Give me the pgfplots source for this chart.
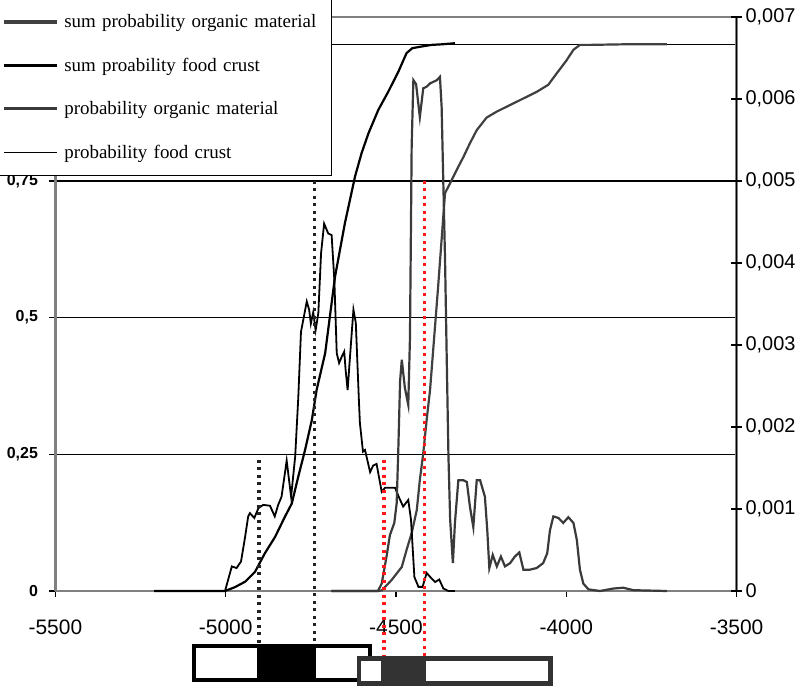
\documentclass[border=0pt]{standalone}
\usepackage{fontspec}
\setmainfont{Liberation Sans}
\newfontfamily\legfont{Liberation Serif}
\usepackage{pgfplots}
\pgfplotsset{compat=1.18}
\definecolor{axgray}{HTML}{808080}
\definecolor{orgline}{HTML}{404040}
\definecolor{orgden}{HTML}{3A3A3A}
\definecolor{boxgray}{HTML}{333333}
\definecolor{dotred}{HTML}{FF1A1A}
\definecolor{dotblack}{HTML}{222222}

\pgfplotstableread{
x y
-5210 0
-5002 0
-4973 0.007
-4943 0.017
-4914 0.035
-4885 0.069
-4855 0.099
-4826 0.136
-4806 0.160
-4787 0.209
-4767 0.258
-4747 0.313
-4733 0.368
-4708 0.435
-4679 0.575
-4650 0.673
-4620 0.759
-4601 0.801
-4581 0.837
-4552 0.880
-4523 0.913
-4493 0.950
-4469 0.984
-4452 0.993
-4425 0.996
-4395 0.999
-4366 1.000
-4327 1.002
}\sumfood

\pgfplotstableread{
x y
-4690 0
-4553 0
-4542 0.001
-4513 0.020
-4483 0.044
-4469 0.075
-4454 0.106
-4439 0.148
-4430 0.203
-4420 0.252
-4410 0.313
-4400 0.368
-4377 0.551
-4356 0.728
-4341 0.746
-4322 0.770
-4302 0.794
-4283 0.819
-4263 0.843
-4234 0.866
-4204 0.877
-4165 0.889
-4126 0.901
-4087 0.913
-4053 0.926
-4028 0.947
-3999 0.971
-3979 0.990
-3960 0.999
-3930 0.999
-3833 1.000
-3705 1.000
}\sumorg

% densities in units of 0.001
\pgfplotstableread{
x y
-5210 0
-5002 0
-4982 0.30
-4968 0.28
-4955 0.36
-4943 0.66
-4934 0.91
-4929 0.95
-4916 0.89
-4904 1.01
-4890 1.05
-4870 1.04
-4856 0.91
-4846 1.05
-4836 1.15
-4821 1.59
-4808 1.15
-4796 1.64
-4787 2.35
-4779 3.16
-4762 3.53
-4755 3.43
-4750 3.26
-4743 3.40
-4736 3.18
-4728 3.39
-4720 4.12
-4711 4.48
-4699 4.36
-4689 4.34
-4681 3.79
-4674 2.90
-4667 2.78
-4659 2.86
-4652 2.92
-4648 2.70
-4642 2.45
-4635 2.86
-4625 3.43
-4618 3.27
-4609 2.33
-4606 2.05
-4597 1.70
-4591 1.72
-4576 1.45
-4567 1.53
-4557 1.55
-4550 1.39
-4542 1.21
-4532 1.26
-4503 1.26
-4490 1.13
-4479 1.03
-4464 1.11
-4456 0.87
-4446 0.17
-4434 0.05
-4422 0.05
-4410 0.22
-4395 0.15
-4385 0.11
-4373 0.14
-4361 0.03
-4346 0
-4327 0
}\denfood

\pgfplotstableread{
x y
-4690 0
-4553 0
-4542 0.09
-4527 0.44
-4518 0.68
-4505 0.83
-4498 1.07
-4493 1.76
-4488 2.56
-4483 2.82
-4474 2.48
-4464 2.27
-4459 3.09
-4454 5.43
-4449 6.23
-4441 6.18
-4430 5.78
-4420 6.13
-4410 6.15
-4400 6.19
-4380 6.23
-4371 6.27
-4366 5.90
-4361 4.96
-4356 4.04
-4351 2.82
-4346 1.64
-4341 0.87
-4333 0.34
-4327 0.83
-4317 1.35
-4302 1.35
-4292 1.33
-4283 1.03
-4273 0.78
-4263 1.35
-4253 1.35
-4239 1.15
-4232 0.74
-4226 0.28
-4216 0.44
-4204 0.30
-4192 0.42
-4180 0.30
-4165 0.34
-4151 0.42
-4138 0.47
-4126 0.26
-4107 0.26
-4087 0.28
-4068 0.34
-4056 0.46
-4048 0.74
-4038 0.91
-4023 0.89
-4009 0.83
-3994 0.90
-3979 0.83
-3969 0.62
-3960 0.26
-3950 0.09
-3935 0.02
-3901 0
-3862 0.03
-3833 0.04
-3803 0.01
-3705 0
}\denorg

\begin{document}
\begin{tikzpicture}
\useasboundingbox (-55.4bp,-97bp) rectangle (755.6bp,591bp);
\begin{axis}[
  at={(0,0)}, anchor=south west,
  scale only axis, width=681.2bp, height=574bp,
  xmin=-5500, xmax=-3500, ymin=0, ymax=1.05,
  separate axis lines,
  axis line style={axgray, line width=2.5bp},
  tick pos=left, tick align=outside,
  major tick length=6bp,
  every tick/.style={black, line width=1.3bp},
  xtick={-5500,-5000,-4500,-4000,-3500},
  xticklabels={-5500,-5000,-4500,-4000,-3500},
  xticklabel style={font=\fontsize{21}{25}\selectfont, yshift=-19bp},
  ytick={0,0.25,0.5,0.75,1},
  yticklabels={0,{0,25},{0,5},{0,75},1},
  yticklabel style={font=\bfseries\fontsize{16}{18}\selectfont, xshift=-8bp},
  ymajorgrids, grid style={black, line width=1.4bp},
  clip=false,
]
\addplot[black, line width=2.2bp] table[x=x,y=y] {\sumfood};
\addplot[orgline, line width=2.2bp] table[x=x,y=y] {\sumorg};
\end{axis}
\begin{axis}[
  at={(0,0)}, anchor=south west,
  scale only axis, width=681.2bp, height=574bp,
  xmin=-5500, xmax=-3500, ymin=0, ymax=7,
  axis x line=none, axis y line*=right,
  axis line style={black, line width=1.5bp, -},
  tick align=center, major tick length=11bp,
  every tick/.style={black, line width=1.3bp},
  ytick={0,1,2,3,4,5,6,7},
  yticklabels={0,{0,001},{0,002},{0,003},{0,004},{0,005},{0,006},{0,007}},
  yticklabel style={font=\fontsize{20}{24}\selectfont},
  clip=false,
  legend image code/.code={\draw[#1] (0bp,0bp) -- (53bp,0bp);},
  legend style={at={(0.406,0.723)}, anchor=south east, draw=black,
    line width=1.3bp, fill=white, inner xsep=6bp, inner ysep=1bp,
    row sep=0pt, column sep=0pt,
    font=\legfont\fontsize{19}{22}\selectfont,
    nodes={minimum height=43.6bp, text width=256bp, align=left, inner xsep=5bp, inner ysep=0pt},
    cells={anchor=west}},
]
\addplot[forget plot, black, line width=1.8bp] table[x=x,y=y] {\denfood};
\addplot[forget plot, orgden, line width=2.2bp] table[x=x,y=y] {\denorg};
% dotted markers
\addplot[forget plot, dotblack, line width=3.5bp, dash pattern=on 3bp off 4.5bp] coordinates {(-4902,1.6) (-4902,-0.646)};
\addplot[forget plot, dotblack, line width=3.5bp, dash pattern=on 3bp off 4.5bp] coordinates {(-4740,5.0) (-4740,-0.646)};
\addplot[forget plot, dotred, line width=3.5bp, dash pattern=on 3bp off 4.5bp] coordinates {(-4535,1.6) (-4535,-0.793)};
\addplot[forget plot, dotred, line width=3.5bp, dash pattern=on 3bp off 4.5bp] coordinates {(-4417,5.0) (-4417,-0.793)};
% boxes below the axis
\addplot[forget plot, draw=black, line width=4bp, fill=white] coordinates {(-5093,-0.671) (-4576,-0.671) (-4576,-1.085) (-5093,-1.085)} -- cycle;
\addplot[forget plot, draw=none, fill=black] coordinates {(-4907,-0.646) (-4735,-0.646) (-4735,-1.110) (-4907,-1.110)} -- cycle;
\addplot[forget plot, draw=boxgray, line width=4.5bp, fill=white] coordinates {(-4609,-0.821) (-4046,-0.821) (-4046,-1.128) (-4609,-1.128)} -- cycle;
\addplot[forget plot, draw=none, fill=boxgray] coordinates {(-4544,-0.793) (-4412,-0.793) (-4412,-1.155) (-4544,-1.155)} -- cycle;
% legend
\addlegendimage{orgline, line width=4bp}
\addlegendentry{sum probability organic material}
\addlegendimage{black, line width=3bp}
\addlegendentry{sum proability food crust}
\addlegendimage{orgden, line width=3bp}
\addlegendentry{probability organic material}
\addlegendimage{black, line width=1.8bp}
\addlegendentry{probability food crust}
\end{axis}
\end{tikzpicture}
\end{document}
